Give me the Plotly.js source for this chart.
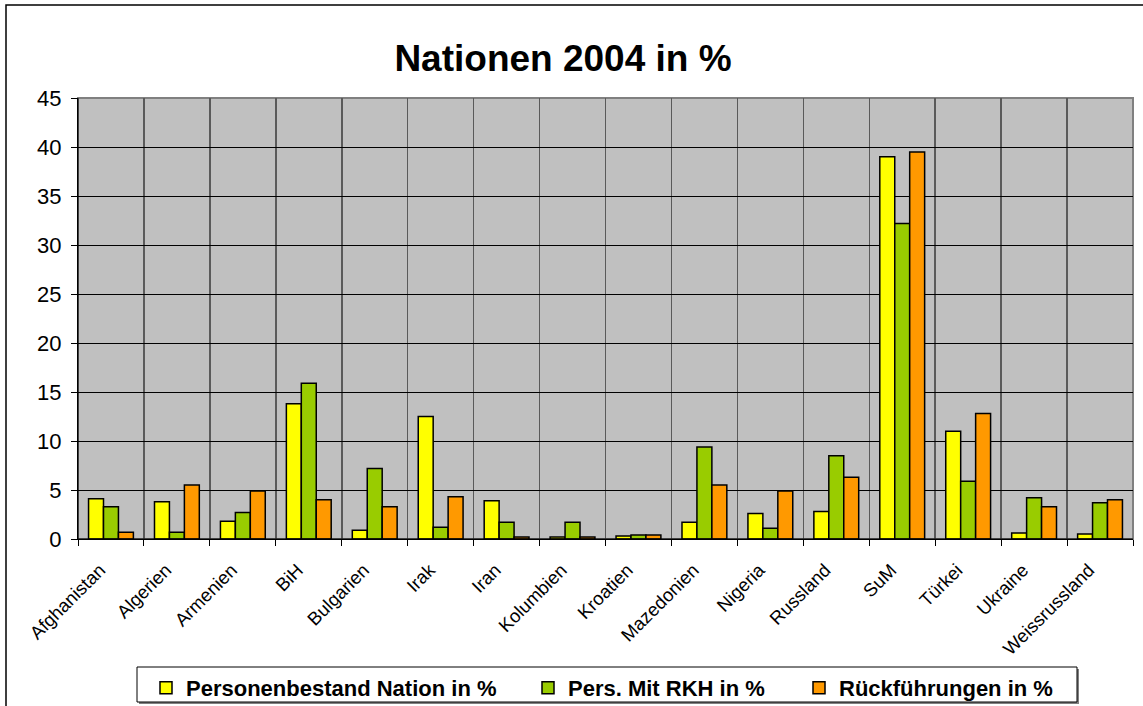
<!DOCTYPE html>
<html>
<head>
<meta charset="utf-8">
<script src="https://cdn.plot.ly/plotly-3.0.1.min.js"></script>
<style>html,body{margin:0;padding:0;background:#fff;}#chart{width:1143px;height:706px;}</style>
</head>
<body>
<div id="chart"></div>
<script>
const categories = ["Afghanistan","Algerien","Armenien","BiH","Bulgarien","Irak","Iran","Kolumbien","Kroatien","Mazedonien","Nigeria","Russland","SuM","Türkei","Ukraine","Weissrussland"];
const personenbestand = [4.1, 3.8, 1.8, 13.8, 0.9, 12.5, 3.9, 0.2, 0.3, 1.7, 2.6, 2.8, 39.0, 11.0, 0.6, 0.5];
const persMitRKH = [3.3, 0.7, 2.7, 15.9, 7.2, 1.2, 1.7, 1.7, 0.4, 9.4, 1.1, 8.5, 32.2, 5.9, 4.2, 3.7];
const rueckfuehrungen = [0.7, 5.5, 4.9, 4.0, 3.3, 4.3, 0.2, 0.2, 0.4, 5.5, 4.9, 6.3, 39.5, 12.8, 3.3, 4.0];
const seriesNames = ["Personenbestand Nation in %", "Pers. Mit RKH in %", "Rückführungen in %"];
const yTicks = [0,5,10,15,20,25,30,35,40,45];

const W = 1143, H = 706;
const L = 78, R = 1133, T = 98, B = 539;
const px = x => (x - L) / (R - L);
const py = y => (B - y) / (B - T);

const line = {color: '#000', width: 1.5};
const traces = [
  {type:'bar', name: seriesNames[0], x: categories, y: personenbestand, marker:{color:'#FFFF00', line}, legend: 'legend'},
  {type:'bar', name: seriesNames[1], x: categories, y: persMitRKH, marker:{color:'#99CC00', line}, legend: 'legend2'},
  {type:'bar', name: seriesNames[2], x: categories, y: rueckfuehrungen, marker:{color:'#FF9900', line}, legend: 'legend3'}
];

const legendBase = (xpix) => ({
  orientation: 'h', x: px(xpix), xanchor: 'left', y: py(667), yanchor: 'top',
  bgcolor: 'rgba(0,0,0,0)', borderwidth: 0,
  font: {size: 22, family: 'Arial, "Liberation Sans", sans-serif', weight: 'bold', color: '#000'},
  itemwidth: 30
});

const layout = {
  width: W, height: H,
  margin: {l: L, r: W - R, t: T, b: H - B, pad: 0, autoexpand: false},
  paper_bgcolor: '#fff',
  plot_bgcolor: '#C0C0C0',
  font: {family: 'Arial, "Liberation Sans", sans-serif', color: '#000'},
  title: {text: '<b>Nationen 2004 in %</b>', font: {size: 37, color: '#000'},
          x: 563 / W, xanchor: 'center', xref: 'container', y: 1 - 58 / H, yanchor: 'middle', yref: 'container'},
  barmode: 'group',
  bargap: 0.32,
  bargroupgap: 0,
  showlegend: true,
  legend: legendBase(146),
  legend2: legendBase(528),
  legend3: legendBase(799),
  xaxis: {type: 'category', tickson: 'boundaries', showgrid: true, gridcolor: '#5a5a5a', gridwidth: 1.5,
          ticks: 'outside', ticklen: 6, tickcolor: '#000', tickwidth: 1,
          tickangle: -45, tickfont: {size: 18.5}, automargin: false, ticklabelstandoff: 12, ticklabelshift: -11,
          showline: true, linecolor: '#000', linewidth: 1, zeroline: false, fixedrange: true},
  yaxis: {range: [0, 45], tickvals: yTicks, ticktext: yTicks.map(String), showgrid: true, gridcolor: '#000', gridwidth: 1,
          ticks: 'outside', ticklen: 6, tickcolor: '#000', tickwidth: 1, tickfont: {size: 22}, ticklabelstandoff: 5,
          showline: true, linecolor: '#000', linewidth: 1, zeroline: false, automargin: false, fixedrange: true},
  shapes: [
    {type: 'rect', xref: 'paper', yref: 'paper', x0: 0, x1: 1, y0: 0, y1: 1, line: {color: '#808080', width: 2}, layer: 'below'},
    {type: 'line', xref: 'paper', yref: 'paper', x0: 0, x1: 0, y0: 0, y1: 1, line: {color: '#000', width: 1}},
    {type: 'line', xref: 'paper', yref: 'paper', x0: 0, x1: 1, y0: 0, y1: 0, line: {color: '#000', width: 1}},
    {type: 'rect', xref: 'paper', yref: 'paper', x0: px(6), x1: px(1160), y0: py(5), y1: py(730), line: {color: '#000', width: 1.5}, fillcolor: 'rgba(0,0,0,0)'},
    {type: 'rect', xref: 'paper', yref: 'paper', x0: px(139), x1: px(1079), y0: py(669), y1: py(704), line: {width: 0}, fillcolor: '#808080'},
    {type: 'rect', xref: 'paper', yref: 'paper', x0: px(137), x1: px(1077), y0: py(667), y1: py(702), line: {color: '#000', width: 1}, fillcolor: '#fff'}
  ]
};

Plotly.newPlot('chart', traces, layout, {displayModeBar: false, staticPlot: true});
</script>
</body>
</html>
